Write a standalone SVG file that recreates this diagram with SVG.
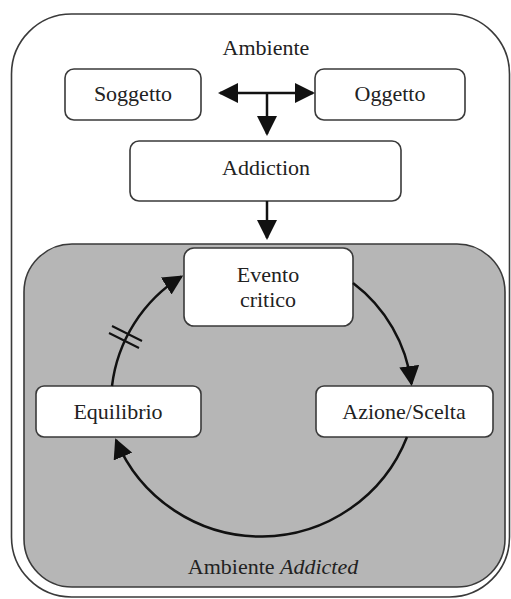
<svg xmlns="http://www.w3.org/2000/svg" width="511" height="599" viewBox="0 0 511 599">
<defs>
<style>
.box{fill:#ffffff;stroke:#3a3a3a;stroke-width:1.6}
.t{font-family:"Liberation Serif","Times New Roman",serif;font-size:22px;fill:#222;text-anchor:middle}
.c{fill:none;stroke:#111;stroke-width:2.5}
.h{fill:none;stroke:#111;stroke-width:2}
</style>
<marker id="ah" markerUnits="userSpaceOnUse" markerWidth="20" markerHeight="20" viewBox="0 0 20 20" refX="18" refY="10" orient="auto-start-reverse">
<path d="M0,0 L20,10 L0,20 z" fill="#111"/>
</marker>
</defs>
<rect id="ambiente" x="11.5" y="14" width="498" height="583" rx="60" ry="60" fill="#ffffff" stroke="#3a3a3a" stroke-width="1.6"/>
<rect id="ambiente-addicted" x="24" y="244" width="481" height="343" rx="48" ry="48" fill="#b6b6b6" stroke="#3a3a3a" stroke-width="1.6"/>
<text class="t" x="266" y="55">Ambiente</text>
<text class="t" x="273" y="574" fill="#333">Ambiente <tspan font-style="italic">Addicted</tspan></text>
<g id="soggetto"><rect class="box" x="65" y="69" width="136" height="51" rx="9"/><text class="t" x="133" y="101">Soggetto</text></g>
<g id="oggetto"><rect class="box" x="315" y="69" width="150" height="51" rx="9"/><text class="t" x="390" y="101">Oggetto</text></g>
<g id="addiction"><rect class="box" x="130" y="141" width="271" height="60" rx="9"/><text class="t" x="266" y="175">Addiction</text></g>
<g id="evento"><rect class="box" x="184" y="248" width="169" height="78" rx="10"/><text class="t" x="268" y="282">Evento</text><text class="t" x="268" y="307">critico</text></g>
<g id="equilibrio"><rect class="box" x="36" y="386" width="165" height="51" rx="8"/><text class="t" x="118" y="419">Equilibrio</text></g>
<g id="azione"><rect class="box" x="316" y="386" width="177" height="51" rx="8"/><text class="t" x="404" y="419">Azione/Scelta</text></g>
<g id="connectors">
<path class="c" d="M220,93 L313,93" marker-start="url(#ah)" marker-end="url(#ah)"/>
<path class="c" d="M267,93 L267,134" marker-end="url(#ah)"/>
<path class="c" d="M267,201 L267,238" marker-end="url(#ah)"/>
<path class="c" d="M112,386 A150,150 0 0 1 181.5,276.5" marker-end="url(#ah)"/>
<path class="c" d="M353,283 A150,150 0 0 1 411.5,384" marker-end="url(#ah)"/>
<path class="c" d="M407,437 A157,157 0 0 1 116,440" marker-end="url(#ah)"/>
<line class="h" x1="112" y1="326" x2="142" y2="341"/>
<line class="h" x1="109" y1="333" x2="139" y2="348"/>
</g>
</svg>
